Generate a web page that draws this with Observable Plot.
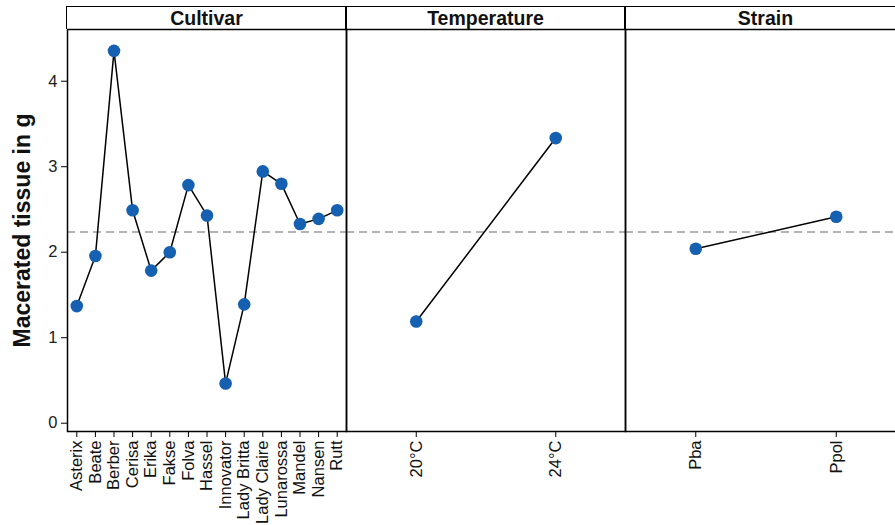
<!DOCTYPE html>
<html>
<head>
<meta charset="utf-8">
<script src="https://cdn.jsdelivr.net/npm/d3@7"></script>
<script src="https://cdn.jsdelivr.net/npm/@observablehq/plot@0.6"></script>
<style>
  body { margin: 0; background: #fff; font-family: "Liberation Sans", Arial, sans-serif; }
  #wrap { position: relative; width: 895px; height: 525px; overflow: hidden; background: #fff; }
  .col { position: absolute; top: 0; }
  .col svg { max-width: none !important; overflow: visible; }
  .strip { position: absolute; top: 6px; height: 23px; box-sizing: border-box;
           border: 1.5px solid #000; border-bottom: none;
           font-weight: bold; font-size: 19.5px; text-align: center; line-height: 22px; color: #111; }
</style>
</head>
<body>
<div id="wrap"></div>
<script>
// ---- data ----
const cultivars = ["Asterix","Beate","Berber","Cerisa","Erika","Fakse","Folva","Hassel","Innovator","Lady Britta","Lady Claire","Lunarossa","Mandel","Nansen","Rutt"];
const cultivarValues = [1.37, 1.955, 4.355, 2.49, 1.785, 2.0, 2.785, 2.43, 0.465, 1.39, 2.945, 2.80, 2.33, 2.39, 2.49];
const temperatures = ["20°C", "24°C"];
const temperatureValues = [1.19, 3.335];
const strains = ["Pba", "Ppol"];
const strainValues = [2.04, 2.415];
const grandMean = 2.235;
const yTicks = [0, 1, 2, 3, 4];
const panelTitles = ["Cultivar", "Temperature", "Strain"];
const yLabel = "Macerated tissue in g";

const font = "'Liberation Sans', Arial, sans-serif";

function panel(cats, vals, width, marginLeft, withY) {
  const data = cats.map((c, i) => ({c, v: vals[i]}));
  const marks = [
    Plot.ruleY([grandMean], {stroke: "#9a9a9a", strokeWidth: 1.5, strokeDasharray: "8,5"}),
    Plot.line(data, {x: "c", y: "v", stroke: "#000", strokeWidth: 1.5}),
    Plot.dot(data, {x: "c", y: "v", r: 6.3, fill: "#1560b0", stroke: "none"}),
    Plot.frame({stroke: "#000", strokeWidth: 1.5}),
    Plot.axisX({tickRotate: -90, tickSize: 6, tickPadding: 3, label: null, fontSize: 16.5, stroke: "#000", fill: "#111"})
  ];
  if (withY) {
    marks.push(Plot.axisY({ticks: yTicks, tickFormat: d3.format("d"), tickSize: 6, tickPadding: 4, label: null, fontSize: 16.5, fill: "#222", stroke: "#000"}));
    marks.push(Plot.text([yLabel], {frameAnchor: "left", dx: -45, rotate: -90, fontSize: 23, fontWeight: "bold", fill: "#111", textAnchor: "middle", lineAnchor: "middle"}));
  }
  return Plot.plot({
    width, height: 525,
    marginTop: 29, marginBottom: 94, marginLeft, marginRight: 0,
    x: {type: "point", domain: cats, padding: 0.5, round: false, axis: null},
    y: {domain: [-0.097, 4.605], axis: null},
    style: {fontFamily: font, fontSize: "16px", color: "#111", background: "transparent", overflow: "visible"},
    marks
  });
}

const wrap = document.getElementById("wrap");
const cols = [
  {left: 0, plot: panel(cultivars, cultivarValues, 346, 67, true), stripLeft: 67, stripW: 279},
  {left: 346, plot: panel(temperatures, temperatureValues, 279, 0, false), stripLeft: 346, stripW: 279},
  {left: 625, plot: panel(strains, strainValues, 281, 0, false), stripLeft: 625, stripW: 281}
];
cols.forEach((c) => {
  const d = document.createElement("div");
  d.className = "col";
  d.style.left = c.left + "px";
  d.appendChild(c.plot);
  wrap.appendChild(d);
});
cols.forEach((c, i) => {
  const s = document.createElement("div");
  s.className = "strip";
  s.style.left = (c.stripLeft - 0.75) + "px";
  s.style.width = (c.stripW + 1.5) + "px";
  s.textContent = panelTitles[i];
  wrap.appendChild(s);
});
</script>
</body>
</html>
